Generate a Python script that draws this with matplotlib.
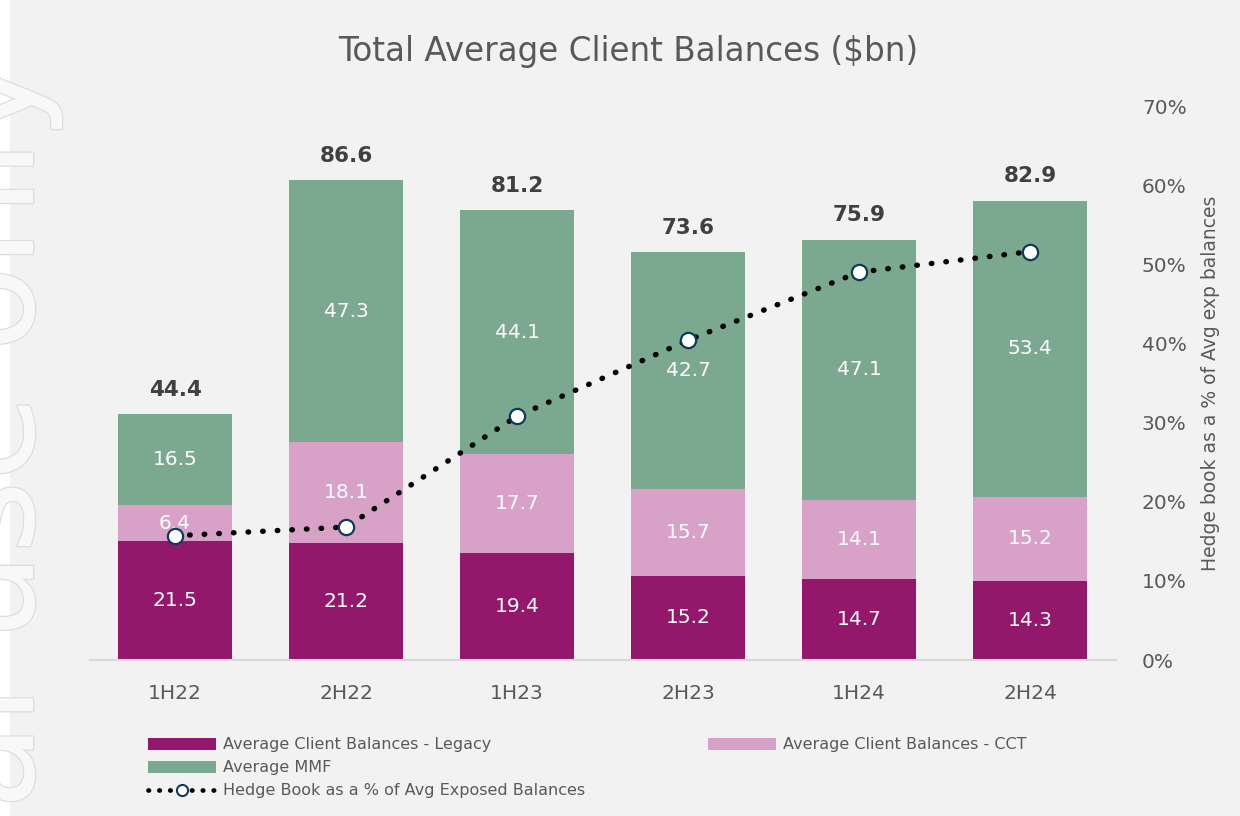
import matplotlib.pyplot as plt
import matplotlib.patheffects as pe
from matplotlib.patches import Rectangle, Patch
from matplotlib.lines import Line2D
from matplotlib.ticker import PercentFormatter
import numpy as np

periods = ["1H22", "2H22", "1H23", "2H23", "1H24", "2H24"]
legacy = [21.5, 21.2, 19.4, 15.2, 14.7, 14.3]
cct = [6.4, 18.1, 17.7, 15.7, 14.1, 15.2]
mmf = [16.5, 47.3, 44.1, 42.7, 47.1, 53.4]
totals = [44.4, 86.6, 81.2, 73.6, 75.9, 82.9]
hedge_pct = [15.7, 16.8, 30.8, 40.4, 49.0, 51.6]

c_legacy = "#93186C"
c_cct = "#D8A2C8"
c_mmf = "#7BA98F"
bg = "#F2F2F2"
txt = "#595959"
navy = "#0E3A5C"

plt.rcParams['font.family'] = ['DejaVu Sans']

fig = plt.figure(figsize=(12.4, 8.16), dpi=100, facecolor="white")
# grey panel, white strip on the far left
fig.patches.append(Rectangle((10 / 1240, 0), 1, 1, transform=fig.transFigure,
                             facecolor=bg, edgecolor="none", zorder=-10))

# faint watermark, mostly cut off at the left edge (as in the original)
fig.text(62 / 1240, 1 - 58 / 816, "internal use only", rotation=90, ha="right", va="top",
         fontsize=100, color="#F8F8F8", zorder=-5,
         path_effects=[pe.withStroke(linewidth=2.0, foreground="#DDDDDD"), pe.Normal()])

ax = fig.add_axes([89.5 / 1240, 156 / 816, 1026 / 1240, 554 / 816])
ax.set_facecolor("none")
x = np.arange(len(periods))
w = 0.667

ax.bar(x, legacy, w, color=c_legacy, zorder=2)
ax.bar(x, cct, w, bottom=legacy, color=c_cct, zorder=2)
bottom3 = np.array(legacy) + np.array(cct)
ax.bar(x, mmf, w, bottom=bottom3, color=c_mmf, zorder=2)

for i in range(len(periods)):
    ax.text(x[i], legacy[i] / 2, f"{legacy[i]:.1f}", ha="center", va="center",
            color="white", fontsize=14.5, zorder=3)
    ax.text(x[i], legacy[i] + cct[i] / 2, f"{cct[i]:.1f}", ha="center", va="center",
            color="white", fontsize=14.5, zorder=3)
    ax.text(x[i], bottom3[i] + mmf[i] / 2, f"{mmf[i]:.1f}", ha="center", va="center",
            color="white", fontsize=14.5, zorder=3)
    ax.text(x[i], totals[i] + 2.6, f"{totals[i]:.1f}", ha="center", va="bottom",
            color="#404040", fontsize=15.5, fontweight="bold", zorder=3)

ax.set_xlim(-0.5, len(periods) - 0.5)
ax.set_ylim(0, 100)
ax.set_yticks([])
ax.set_xticks(x)
ax.set_xticklabels(periods, fontsize=14.5, color=txt)
ax.tick_params(axis="x", length=0, pad=17)
for s in ["top", "right", "left"]:
    ax.spines[s].set_visible(False)
ax.spines["bottom"].set_color("#D9D9D9")
ax.spines["bottom"].set_linewidth(1.5)

ax2 = ax.twinx()
ax2.set_ylim(0, 70)
ax2.set_yticks(range(0, 71, 10))
ax2.yaxis.set_major_formatter(PercentFormatter(decimals=0))
ax2.tick_params(axis="y", length=0, labelsize=14.5, labelcolor=txt, pad=19)
for s in ax2.spines.values():
    s.set_visible(False)
ax2.set_ylabel("Hedge book as a % of Avg exp balances", fontsize=13.5, color=txt, labelpad=10)
ax2.plot(x, hedge_pct, linestyle=(0, (0.1, 2.6)), dash_capstyle="round", color="black",
         linewidth=3.9, marker="o", markersize=11, markerfacecolor="white",
         markeredgecolor=navy, markeredgewidth=1.6, zorder=5)

fig.text(628 / 1240, 1 - 52 / 816, "Total Average Client Balances ($bn)", ha="center",
         va="center", fontsize=23.5, color=txt)

h_legacy = Patch(facecolor=c_legacy)
h_cct = Patch(facecolor=c_cct)
h_mmf = Patch(facecolor=c_mmf)
h_line = Line2D([], [], linestyle=(0, (0.1, 2.2)), dash_capstyle="round", color="black",
                linewidth=3.4, marker="o", markersize=8, markerfacecolor="white",
                markeredgecolor=navy, markeredgewidth=1.5)

leg_kw = dict(frameon=False, fontsize=11.5, labelcolor=txt, handlelength=4.25,
              handleheight=0.75, handletextpad=0.4, labelspacing=0.5, borderaxespad=0)
fig.legend([h_legacy, h_mmf, h_line],
           ["Average Client Balances - Legacy", "Average MMF",
            "Hedge Book as a % of Avg Exposed Balances"],
           loc="upper left", bbox_to_anchor=(142 / 1240, 1 - 731 / 816), **leg_kw)
fig.legend([h_cct], ["Average Client Balances - CCT"],
           loc="upper left", bbox_to_anchor=(702 / 1240, 1 - 731 / 816), **leg_kw)

fig.savefig("out.png", dpi=100, facecolor=fig.get_facecolor())
